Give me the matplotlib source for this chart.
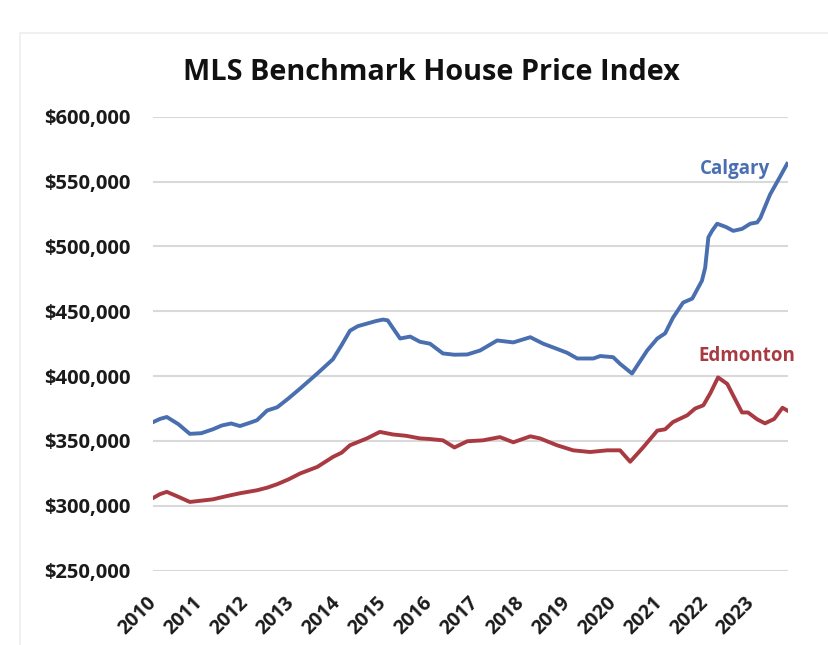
import matplotlib
matplotlib.use("Agg")
import matplotlib.pyplot as plt
import matplotlib.ticker as mticker
from matplotlib.transforms import ScaledTranslation
from matplotlib.patches import Rectangle

# values (decimal year, price)
calgary_year = [2010.0, 2010.15, 2010.3, 2010.55, 2010.8, 2011.05, 2011.3, 2011.5, 2011.7, 2011.89,
                2012.1, 2012.26, 2012.48, 2012.7, 2012.95, 2013.2, 2013.57, 2013.91, 2014.1, 2014.28,
                2014.45, 2014.65, 2014.85, 2015.0, 2015.1, 2015.37, 2015.59, 2015.8, 2016.02, 2016.3,
                2016.55, 2016.83, 2017.11, 2017.48, 2017.83, 2018.2, 2018.48, 2018.78, 2019.0, 2019.22,
                2019.57, 2019.72, 2020.0, 2020.15, 2020.41, 2020.74, 2020.96, 2021.13, 2021.3, 2021.52,
                2021.72, 2021.93, 2022.0, 2022.07, 2022.15, 2022.26, 2022.45, 2022.61, 2022.8, 2022.98,
                2023.13, 2023.2, 2023.41, 2023.6, 2023.78]
calgary_price = [364500, 367000, 368500, 363000, 355500, 356000, 359000, 362000, 363500, 361500,
                 364000, 366000, 373500, 376000, 383000, 390500, 402000, 413000, 424000, 435000,
                 438500, 440500, 442500, 443600, 443000, 429000, 430500, 426500, 425000, 417500,
                 416500, 416700, 419800, 427500, 426000, 430000, 425000, 421000, 418000, 413600,
                 413600, 415500, 414600, 409500, 402000, 419800, 429000, 433000, 445000, 456700,
                 459800, 473600, 483600, 507000, 512000, 517500, 515000, 512000, 513500, 517500,
                 518500, 522000, 540000, 552000, 563600]

edmonton_year = [2010.0, 2010.15, 2010.3, 2010.55, 2010.8, 2011.05, 2011.3, 2011.6, 2011.89, 2012.26,
                 2012.48, 2012.7, 2012.95, 2013.2, 2013.57, 2013.91, 2014.1, 2014.28, 2014.65, 2014.93,
                 2015.22, 2015.5, 2015.8, 2016.02, 2016.3, 2016.55, 2016.83, 2017.17, 2017.54, 2017.83,
                 2018.2, 2018.41, 2018.78, 2019.13, 2019.5, 2019.87, 2020.15, 2020.37, 2020.65, 2020.96,
                 2021.13, 2021.3, 2021.61, 2021.78, 2021.96, 2022.11, 2022.28, 2022.48, 2022.61, 2022.8,
                 2022.93, 2023.13, 2023.3, 2023.5, 2023.68, 2023.78]
edmonton_price = [306000, 309000, 310800, 307000, 303000, 304000, 305000, 307500, 309700, 312000,
                  314000, 316700, 320500, 325000, 330000, 337700, 341000, 346700, 352000, 357000,
                  355000, 354000, 352000, 351500, 350500, 345000, 349800, 350500, 353000, 349000,
                  353600, 352000, 346700, 342800, 341500, 342800, 342800, 334000, 345000, 358000,
                  359000, 364600, 369800, 375000, 377500, 386700, 399000, 394000, 385000, 372000,
                  372000, 366700, 363600, 367000, 375600, 373600]

year_ticks = list(range(2010, 2024))
price_ticks = list(range(250000, 600001, 50000))

blue = "#4a6fb0"
red = "#a93a42"
font = "Open Sans"

fig = plt.figure(figsize=(8.29, 6.45), dpi=100)
# faint frame of the pasted chart
fig.patches.append(Rectangle((20/829, -0.01), 1, 1.01 - 33/645, transform=fig.transFigure,
                             facecolor="none", edgecolor="#eeeeee", lw=1.2, zorder=-1))
ax = fig.add_axes([153/829, 1 - 570.7/645, 635/829, 454/645])
ax.set_facecolor("none")

ax.plot(calgary_year, calgary_price, color=blue, lw=2.8, solid_joinstyle="round")
ax.plot(edmonton_year, edmonton_price, color=red, lw=2.8, solid_joinstyle="round")

ax.set_xlim(2010, 2023.8)
ax.set_ylim(250000, 600000)
ax.set_yticks(price_ticks)
ax.yaxis.set_major_formatter(mticker.FuncFormatter(lambda v, p: "${:,.0f}".format(v)))
ax.set_xticks(year_ticks)
ax.set_xticklabels([str(y) for y in year_ticks], rotation=45, ha="right", va="center",
                   rotation_mode="anchor")
for lbl in ax.get_xticklabels():
    lbl.set_transform(lbl.get_transform() + ScaledTranslation(6/100, 0, fig.dpi_scale_trans))
    lbl.set_fontfamily(font)
    lbl.set_fontweight("bold")
    lbl.set_fontsize(14)
for lbl in ax.get_yticklabels():
    lbl.set_fontfamily(font)
    lbl.set_fontweight("bold")
    lbl.set_fontsize(14.5)
ax.tick_params(axis="x", length=0, pad=21, colors="#1a1a1a")
ax.tick_params(axis="y", length=0, pad=16, colors="#1a1a1a")

ax.grid(axis="y", color="#d9d9d9", lw=1.5)
ax.set_axisbelow(True)
for s in ax.spines.values():
    s.set_visible(False)

ax.text(2023.41, 559800, "Calgary", color=blue, fontsize=13.5, fontweight="bold",
        family=font, ha="right", va="center")
ax.text(2022.91, 415900, "Edmonton", color=red, fontsize=13.5, fontweight="bold",
        family=font, ha="center", va="center")

fig.text(431/829, 1 - 72/645, "MLS Benchmark House Price Index", ha="center", va="center",
         fontsize=20.8, fontweight="bold", family=font, color="#111111")

fig.savefig("out.png", dpi=100)
